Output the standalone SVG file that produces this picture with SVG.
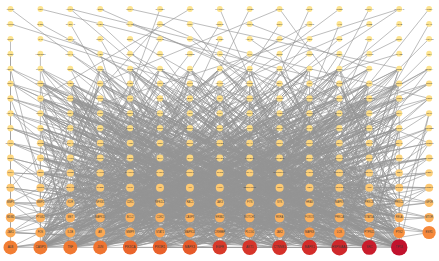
<svg xmlns="http://www.w3.org/2000/svg" width="439" height="261" viewBox="0 0 439 261">
<style>
.e{fill:none;stroke:#949494;stroke-width:.62;stroke-linejoin:round;stroke-linecap:round;vector-effect:non-scaling-stroke}
text{font-family:"Liberation Sans",Arial,sans-serif;text-anchor:middle;dominant-baseline:central;fill:#3a3a3a}
.a circle{fill:#FDE48F}.a text{font-size:2.3px}
.b circle{fill:#FDDE87}.b text{font-size:2.4px}
.c circle{fill:#FDD780}.c text{font-size:2.4px}
.d circle{fill:#FDD07A}.d text{font-size:2.5px}
.f circle{fill:#FDC973}.f text{font-size:2.5px}
.g circle{fill:#FDC06B}.g text{font-size:2.6px}
.h circle{fill:#FCB25E}.h text{font-size:2.6px}
.i text{font-size:2.7px}
.j text{font-size:3px}
</style>
<rect width="439" height="261" fill="#fff"/>
<g id="connectors">
<g transform="matrix(29.9 0 0 14.9 10.5 9)">
<path id="eT" class="e" d="M0 0 6 9M1 0 11 5M2 0 9 12M3 0 12 8M4 0 13 4M5 0 3 11M6 0 1 6M7 0 10 14M8 0 4 16M9 0 13 11M10 0 7 13M11 0 5 9M12 0 8 15M13 0 2 7M14 0 10 10M0 1 8 6M1 1 12 13M2 1 6 15M3 1 11 16M4 1 14 9M5 1 0 12M6 1 9 9M7 1 3 14M8 1 12 4M9 1 5 13M10 1 2 10M11 1 8 16M12 1 4 8M13 1 7 11M14 1 10 15M0 2 0 16M1 2 9 7M2 2 13 15M3 2 7 16M4 2 11 10M5 2 2 13M6 2 12 11M7 2 4 15M8 2 13 9M9 2 1 14M10 2 6 12M11 2 3 16M12 2 9 16M13 2 5 10M14 2 8 14M0 3 0 15M1 3 1 15M2 3 12 16M3 3 5 15M4 3 13 13M5 3 8 11M6 3 1 16M7 3 13 16M8 3 2 11M9 3 11 14M10 3 4 12M11 3 7 15M12 3 6 16M13 3 3 9M14 3 9 13M2 0 14 6M9 0 3 5M13 0 7 8M5 1 12 7"/>
<path id="eB" class="e" d="M0 4 9 15 4 4 12 16 0 5 7 14 14 4 3 16 5 4 11 13 0 6 10 16 6 4 2 15 7 4 13 14 0 7 8 16 8 4 1 13 14 5 5 16 9 4 12 15 0 8 6 13 10 4 4 16 11 4 9 14 14 6 2 16 12 4 7 15 0 9 11 16 13 4 3 14 14 7 13 16 1 5 10 15 0 10 5 16 2 5 8 12 14 8 12 14 3 5 1 16 4 5 6 15 0 11 13 12 5 5 9 16 14 9 2 14 6 5 11 15 0 12 7 16 7 5 4 13 14 10 10 16 8 5 3 15 0 13 12 13 9 5 8 16 10 5 5 14 14 11 1 15 11 5 13 15 0 14 6 16 12 5 2 12 14 12 11 16 13 5 7 13 0 15 9 16 1 6 12 12 14 13 4 15 2 6 10 13 0 16 13 16 3 6 6 14 14 14 8 15 4 6 1 12 0 4 11 14 5 6 9 13 14 15 3 13 6 6 12 16 0 5 10 11 7 6 5 15 8 6 13 13 0 6 2 16 9 6 7 12 14 4 11 12 10 6 4 14 0 7 12 15 11 6 1 16 14 5 8 13 12 6 10 16 0 8 6 11 13 6 3 12 14 6 9 15 1 7 11 13 0 9 5 12 2 7 13 14 14 7 7 16 3 7 2 13 0 10 8 14 4 7 12 11 14 8 4 16 5 7 10 12 0 11 1 14 6 7 9 11 14 9 13 12 7 7 3 15 0 12 11 15 8 7 6 12 14 10 5 13 9 7 12 14 0 13 2 11 10 7 8 16 14 11 4 12 11 7 7 13 0 14 10 14 12 7 1 11 14 12 9 12 13 7 13 16 0 15 3 11 14 13 6 15 0 16 12 13 14 14 5 11 0 15 11 16 14 15 7 11 0 14 9 16 14 12 2 16 0 13 8 15 14 10 1 15 0 16"/>
<path id="eK" class="e" d="M11 16 3 13 8 15 12 11 5 16 9 14 2 12 13 16 6 10 10 15 4 14 7 16 1 11 12 13 9 16 3 9 13 15 6 16 11 12 2 14 8 8 12 16 5 13 10 16 7 15 4 11 13 14 1 16 9 10 6 12 11 16
M12 13 1 12 9 16 4 10 13 15 7 13 2 16 10 11 6 12 11 14 3 16 8 9 12 15 5 12 13 16 9 11 1 16 4 15 11 10 7 16 10 13 2 11 12 16 6 14 8 12 13 13 3 15 9 16 5 7 11 16
M6 12 12 14 2 16 8 10 11 14 5 16 13 13 9 16 1 10 10 15 4 12 7 16 12 12 3 14 11 16 6 8 13 15 8 15 2 12 10 13 5 14 9 16 12 16 1 11 7 10 11 13 4 16 13 12 8 12 3 16
M13 14 9 16 6 16 1 10 12 12 4 16 11 16 3 12 8 13 10 14 5 15 13 13 2 16 7 10 12 15 9 10 11 11 6 11 1 16 10 15 4 13 13 16 8 15 3 13 12 11 7 16 5 16 11 15 2 13 9 12"/>
<path id="eA" class="e" d="M9 16 4 8 12 15 7 11 3 16 11 6 13 14 2 9 6 16 10 12 1 15 8 5 11 16 5 10 8 13 13 7 2 16 9 11 12 12 3 6 7 16 12 9 4 15 6 4 13 16 1 10 10 14 7 7 5 16 13 12
M10 16 2 7 13 15 6 10 4 16 12 8 8 14 1 11 12 16 5 5 2 13 9 9 11 15 3 12 6 16 11 4 1 16 7 8 9 15 13 10 13 16 4 6 5 14 10 11 8 16 2 5 3 15 12 10 11 16 8 7
M7 16 13 9 1 14 5 7 12 16 9 6 4 16 2 10 10 15 11 11 13 13 6 5 6 16 3 8 9 16 12 4 2 15 8 10 11 14 1 6 5 16 10 9 12 15 4 11 8 16 7 5 13 16 11 8 3 14 6 12
M11 16 3 7 6 15 9 12 13 16 2 11 1 16 12 6 9 14 5 9 4 15 13 5 12 16 7 10 8 15 1 8 2 16 10 7 10 13 4 10 7 16 12 11 5 15 8 4 13 14 3 9 9 16 11 5 1 15 6 7
M12 16 8 9 3 16 13 11 10 14 6 6 5 16 1 9 13 15 9 8 7 14 4 5 11 16 2 8 2 14 10 10 8 16 12 7 13 16 5 12 6 15 11 9 1 16 3 4 9 15 7 9 12 14 13 6 4 16 9 10
M13 16 6 8 8 15 2 6 5 16 11 12 12 13 7 4 1 16 13 8 10 16 4 9 3 15 8 11 11 15 1 7 7 16 12 5 4 14 6 9 13 16 10 6 9 15 3 10 2 16 9 5 12 16 5 8 6 14 11 7
M10 16 1 8 5 15 12 12 13 16 3 5 7 15 9 10 2 16 6 11 11 16 13 4 9 14 4 7 4 16 10 8 12 15 2 12 8 16 11 6 1 14 7 9 13 15 5 6 6 16 12 10 3 16 8 4 11 14 13 11
M9 16 5 6 12 16 1 9 2 15 10 4 7 16 3 11 13 14 8 8 4 16 12 6 10 15 6 12 6 16 13 10 1 15 9 7 11 16 4 8 8 14 2 4 13 16 11 9 3 16 7 6 12 15 10 11 5 16 1 5
M11 16 7 7 4 15 11 5 13 16 2 12 8 16 10 9 1 13 5 4 12 16 13 8 6 15 3 7 10 16 9 12 2 16 12 8 9 15 6 5 13 15 4 10 5 16 11 4 12 14 8 9 7 16 1 7 3 14 13 12
M13 16 9 5 6 16 4 11 11 15 12 7 2 14 8 6 10 16 1 4 8 16 13 9 4 15 7 8 12 16 3 10 9 13 11 8 1 16 6 9 7 15 10 5 13 14 2 8 5 16 12 11 11 16 5 6 3 15 9 11
M8 16 3 9 13 15 10 7 2 16 7 12 10 14 12 5 6 16 1 6 12 16 9 4 4 16 13 7 11 14 5 11 1 15 10 10 9 16 2 6 13 13 8 12 7 16 11 7 3 16 6 10 12 15 4 4 10 16 13 10
M12 16 2 9 5 15 9 6 13 16 7 9 3 15 12 5 9 16 4 12 11 16 1 10 7 14 13 5 1 16 8 7 13 15 5 9 8 15 11 11 4 16 10 4 10 13 3 8 6 16 12 6 2 15 9 9 12 16 6 11"/>
<path id="eC" class="e" d="M3 6 9 16 7 5 2 14 11 8 6 16 4 7 12 15 9 4 1 16 13 6 8 14 2 8 11 16 6 5 4 15 10 7 13 16 5 9 7 15 12 6 3 16 1 8 10 14 8 5 12 16 4 9 2 13 11 6 9 16 6 7 5 13 13 8 1 15 7 4 11 14 3 9 8 16 10 6 13 15
M2 5 6 16 12 8 4 14 9 7 10 16 1 6 3 15 11 9 7 16 5 5 12 13 8 8 2 16 13 7 6 14 4 4 10 15 12 9 1 14 9 6 11 16 3 7 7 13 10 5 5 16 6 8 13 14 2 9 8 15 11 4 4 16
M1 7 12 14 7 6 9 13 13 9 3 16 8 4 10 16 5 8 2 15 12 7 11 13 4 6 6 15 9 9 13 16 10 8 1 13 3 5 7 16 11 7 5 14 2 6 12 16 6 9 8 13 13 5 4 13 7 8 10 15 1 9 11 15
M8 6 3 13 12 5 9 16 5 7 2 12 10 9 6 13 4 8 13 13 11 5 7 14 3 4 1 12 9 8 12 12 2 7 10 13 6 6 8 12 13 4 5 12 1 5 11 12"/>
</g>
<g transform="matrix(-29.9 0 0 14.9 429.1 9)"><use href="#eA"/><use href="#eC"/></g>
</g>
<g id="nodes">
<g class="a" transform="translate(0 9)">
<g id="n-PTGS1"><circle cx="10.5" r="2.9"/><text x="10.5">PTGS1</text></g>
<g id="n-F2R"><circle cx="40.4" r="2.9"/><text x="40.4">F2R</text></g>
<g id="n-HMGCR"><circle cx="70.3" r="2.9"/><text x="70.3">HMGCR</text></g>
<g id="n-ABCC1"><circle cx="100.2" r="2.9"/><text x="100.2">ABCC1</text></g>
<g id="n-NR1H4"><circle cx="130.1" r="2.9"/><text x="130.1">NR1H4</text></g>
<g id="n-CYP1B1"><circle cx="160" r="2.9"/><text x="160">CYP1B1</text></g>
<g id="n-ALOX5"><circle cx="189.9" r="2.9"/><text x="189.9">ALOX5</text></g>
<g id="n-MAP2K1"><circle cx="219.8" r="2.9"/><text x="219.8">MAP2K1</text></g>
<g id="n-ADRB2"><circle cx="249.7" r="2.9"/><text x="249.7">ADRB2</text></g>
<g id="n-CHRM1"><circle cx="279.6" r="2.9"/><text x="279.6">CHRM1</text></g>
<g id="n-GSK3A"><circle cx="309.5" r="2.9"/><text x="309.5">GSK3A</text></g>
<g id="n-NOS2"><circle cx="339.4" r="2.9"/><text x="339.4">NOS2</text></g>
<g id="n-SLC6A4"><circle cx="369.3" r="2.9"/><text x="369.3">SLC6A4</text></g>
<g id="n-CYP19A1"><circle cx="399.2" r="2.9"/><text x="399.2">CYP19A1</text></g>
<g id="n-HTR2A"><circle cx="429.1" r="2.9"/><text x="429.1">HTR2A</text></g>
</g>
<g class="a" transform="translate(0 23.9)">
<g id="n-PTPN1"><circle cx="10.5" r="2.9"/><text x="10.5">PTPN1</text></g>
<g id="n-SHBG"><circle cx="40.4" r="2.9"/><text x="40.4">SHBG</text></g>
<g id="n-GABRA1"><circle cx="70.3" r="2.9"/><text x="70.3">GABRA1</text></g>
<g id="n-CHEK1"><circle cx="100.2" r="2.9"/><text x="100.2">CHEK1</text></g>
<g id="n-PPARD"><circle cx="130.1" r="2.9"/><text x="130.1">PPARD</text></g>
<g id="n-AKR1C3"><circle cx="160" r="2.9"/><text x="160">AKR1C3</text></g>
<g id="n-AURKA"><circle cx="189.9" r="2.9"/><text x="189.9">AURKA</text></g>
<g id="n-PDE4D"><circle cx="219.8" r="2.9"/><text x="219.8">PDE4D</text></g>
<g id="n-KCNH2"><circle cx="249.7" r="2.9"/><text x="249.7">KCNH2</text></g>
<g id="n-CDK6"><circle cx="279.6" r="2.9"/><text x="279.6">CDK6</text></g>
<g id="n-MAP3K8"><circle cx="309.5" r="2.9"/><text x="309.5">MAP3K8</text></g>
<g id="n-AHR"><circle cx="339.4" r="2.9"/><text x="339.4">AHR</text></g>
<g id="n-CTSB"><circle cx="369.3" r="2.9"/><text x="369.3">CTSB</text></g>
<g id="n-ACHE"><circle cx="399.2" r="2.9"/><text x="399.2">ACHE</text></g>
<g id="n-PLAU"><circle cx="429.1" r="2.9"/><text x="429.1">PLAU</text></g>
</g>
<g class="a" transform="translate(0 38.8)">
<g id="n-NQO1"><circle cx="10.5" r="2.9"/><text x="10.5">NQO1</text></g>
<g id="n-CA2"><circle cx="40.4" r="2.9"/><text x="40.4">CA2</text></g>
<g id="n-ADORA2A"><circle cx="70.3" r="2.9"/><text x="70.3">ADORA2A</text></g>
<g id="n-CCNA2"><circle cx="100.2" r="2.9"/><text x="100.2">CCNA2</text></g>
<g id="n-DPP4"><circle cx="130.1" r="2.9"/><text x="130.1">DPP4</text></g>
<g id="n-MMP13"><circle cx="160" r="2.9"/><text x="160">MMP13</text></g>
<g id="n-PIM1"><circle cx="189.9" r="2.9"/><text x="189.9">PIM1</text></g>
<g id="n-BACE1"><circle cx="219.8" r="2.9"/><text x="219.8">BACE1</text></g>
<g id="n-HDAC6"><circle cx="249.7" r="2.9"/><text x="249.7">HDAC6</text></g>
<g id="n-PTPRC"><circle cx="279.6" r="2.9"/><text x="279.6">PTPRC</text></g>
<g id="n-ABL1"><circle cx="309.5" r="2.9"/><text x="309.5">ABL1</text></g>
<g id="n-SELE"><circle cx="339.4" r="2.9"/><text x="339.4">SELE</text></g>
<g id="n-CYP3A4"><circle cx="369.3" r="2.9"/><text x="369.3">CYP3A4</text></g>
<g id="n-TOP2A"><circle cx="399.2" r="2.9"/><text x="399.2">TOP2A</text></g>
<g id="n-ALOX15"><circle cx="429.1" r="2.9"/><text x="429.1">ALOX15</text></g>
</g>
<g class="a" transform="translate(0 53.7)">
<g id="n-SOD1"><circle cx="10.5" r="2.9"/><text x="10.5">SOD1</text></g>
<g id="n-HSD11B1"><circle cx="40.4" r="2.9"/><text x="40.4">HSD11B1</text></g>
<g id="n-PRKACA"><circle cx="70.3" r="2.9"/><text x="70.3">PRKACA</text></g>
<g id="n-FABP4"><circle cx="100.2" r="2.9"/><text x="100.2">FABP4</text></g>
<g id="n-MMP12"><circle cx="130.1" r="2.9"/><text x="130.1">MMP12</text></g>
<g id="n-GSTP1"><circle cx="160" r="2.9"/><text x="160">GSTP1</text></g>
<g id="n-CDC25B"><circle cx="189.9" r="2.9"/><text x="189.9">CDC25B</text></g>
<g id="n-PLA2G4A"><circle cx="219.8" r="2.9"/><text x="219.8">PLA2G4A</text></g>
<g id="n-TYR"><circle cx="249.7" r="2.9"/><text x="249.7">TYR</text></g>
<g id="n-ESR2"><circle cx="279.6" r="2.9"/><text x="279.6">ESR2</text></g>
<g id="n-NR3C2"><circle cx="309.5" r="2.9"/><text x="309.5">NR3C2</text></g>
<g id="n-PDE5A"><circle cx="339.4" r="2.9"/><text x="339.4">PDE5A</text></g>
<g id="n-CHRM3"><circle cx="369.3" r="2.9"/><text x="369.3">CHRM3</text></g>
<g id="n-MAOB"><circle cx="399.2" r="2.9"/><text x="399.2">MAOB</text></g>
<g id="n-XDH"><circle cx="429.1" r="2.9"/><text x="429.1">XDH</text></g>
</g>
<g class="a" transform="translate(0 68.6)">
<g id="n-ADRA2A"><circle cx="10.5" r="2.9"/><text x="10.5">ADRA2A</text></g>
<g id="n-CYP2C9"><circle cx="40.4" r="2.9"/><text x="40.4">CYP2C9</text></g>
<g id="n-CES1"><circle cx="70.3" r="2.9"/><text x="70.3">CES1</text></g>
<g id="n-HPGDS"><circle cx="100.2" r="2.9"/><text x="100.2">HPGDS</text></g>
<g id="n-RXRB"><circle cx="130.1" r="2.9"/><text x="130.1">RXRB</text></g>
<g id="n-AKR1B1"><circle cx="160" r="2.9"/><text x="160">AKR1B1</text></g>
<g id="n-MPO"><circle cx="189.9" r="2.9"/><text x="189.9">MPO</text></g>
<g id="n-CA9"><circle cx="219.8" r="2.9"/><text x="219.8">CA9</text></g>
<g id="n-IGF2"><circle cx="249.7" r="2.9"/><text x="249.7">IGF2</text></g>
<g id="n-CTSK"><circle cx="279.6" r="2.9"/><text x="279.6">CTSK</text></g>
<g id="n-PYGM"><circle cx="309.5" r="2.9"/><text x="309.5">PYGM</text></g>
<g id="n-DRD2"><circle cx="339.4" r="2.9"/><text x="339.4">DRD2</text></g>
<g id="n-AMY1A"><circle cx="369.3" r="2.9"/><text x="369.3">AMY1A</text></g>
<g id="n-GRB7"><circle cx="399.2" r="2.9"/><text x="399.2">GRB7</text></g>
<g id="n-SCN5A"><circle cx="429.1" r="2.9"/><text x="429.1">SCN5A</text></g>
</g>
<g class="b" transform="translate(0 83.5)">
<g id="n-NOX4"><circle cx="10.5" r="3.1"/><text x="10.5">NOX4</text></g>
<g id="n-PTGER4"><circle cx="40.4" r="3.1"/><text x="40.4">PTGER4</text></g>
<g id="n-CHEK2"><circle cx="70.3" r="3.1"/><text x="70.3">CHEK2</text></g>
<g id="n-HSPA8"><circle cx="100.2" r="3.1"/><text x="100.2">HSPA8</text></g>
<g id="n-CASP7"><circle cx="130.1" r="3.1"/><text x="130.1">CASP7</text></g>
<g id="n-CYP1A2"><circle cx="160" r="3.1"/><text x="160">CYP1A2</text></g>
<g id="n-PLK1"><circle cx="189.9" r="3.1"/><text x="189.9">PLK1</text></g>
<g id="n-ADAM17"><circle cx="219.8" r="3.1"/><text x="219.8">ADAM17</text></g>
<g id="n-PRSS1"><circle cx="249.7" r="3.1"/><text x="249.7">PRSS1</text></g>
<g id="n-CDK4"><circle cx="279.6" r="3.1"/><text x="279.6">CDK4</text></g>
<g id="n-F10"><circle cx="309.5" r="3.1"/><text x="309.5">F10</text></g>
<g id="n-THRB"><circle cx="339.4" r="3.1"/><text x="339.4">THRB</text></g>
<g id="n-RARA"><circle cx="369.3" r="3.1"/><text x="369.3">RARA</text></g>
<g id="n-NR1I2"><circle cx="399.2" r="3.1"/><text x="399.2">NR1I2</text></g>
<g id="n-CFTR"><circle cx="429.1" r="3.1"/><text x="429.1">CFTR</text></g>
</g>
<g class="b" transform="translate(0 98.4)">
<g id="n-SELP"><circle cx="10.5" r="3.1"/><text x="10.5">SELP</text></g>
<g id="n-IL4"><circle cx="40.4" r="3.1"/><text x="40.4">IL4</text></g>
<g id="n-TYK2"><circle cx="70.3" r="3.1"/><text x="70.3">TYK2</text></g>
<g id="n-PTPN6"><circle cx="100.2" r="3.1"/><text x="100.2">PTPN6</text></g>
<g id="n-LYN"><circle cx="130.1" r="3.1"/><text x="130.1">LYN</text></g>
<g id="n-ZAP70"><circle cx="160" r="3.1"/><text x="160">ZAP70</text></g>
<g id="n-BTK"><circle cx="189.9" r="3.1"/><text x="189.9">BTK</text></g>
<g id="n-ITK"><circle cx="219.8" r="3.1"/><text x="219.8">ITK</text></g>
<g id="n-PRKCQ"><circle cx="249.7" r="3.1"/><text x="249.7">PRKCQ</text></g>
<g id="n-PIK3CD"><circle cx="279.6" r="3.1"/><text x="279.6">PIK3CD</text></g>
<g id="n-PIK3CG"><circle cx="309.5" r="3.1"/><text x="309.5">PIK3CG</text></g>
<g id="n-PDPK1"><circle cx="339.4" r="3.1"/><text x="339.4">PDPK1</text></g>
<g id="n-EIF4EBP1"><circle cx="369.3" r="3.1"/><text x="369.3">EIF4EBP1</text></g>
<g id="n-AURKB"><circle cx="399.2" r="3.1"/><text x="399.2">AURKB</text></g>
<g id="n-TOP1"><circle cx="429.1" r="3.1"/><text x="429.1">TOP1</text></g>
</g>
<g class="b" transform="translate(0 113.3)">
<g id="n-HDAC2"><circle cx="10.5" r="3.1"/><text x="10.5">HDAC2</text></g>
<g id="n-NCOA1"><circle cx="40.4" r="3.1"/><text x="40.4">NCOA1</text></g>
<g id="n-NCOA3"><circle cx="70.3" r="3.1"/><text x="70.3">NCOA3</text></g>
<g id="n-PGR"><circle cx="100.2" r="3.1"/><text x="100.2">PGR</text></g>
<g id="n-NR3C1"><circle cx="130.1" r="3.1"/><text x="130.1">NR3C1</text></g>
<g id="n-PPARA"><circle cx="160" r="3.1"/><text x="160">PPARA</text></g>
<g id="n-VDR"><circle cx="189.9" r="3.1"/><text x="189.9">VDR</text></g>
<g id="n-THRA"><circle cx="219.8" r="3.1"/><text x="219.8">THRA</text></g>
<g id="n-NR1H3"><circle cx="249.7" r="3.1"/><text x="249.7">NR1H3</text></g>
<g id="n-CYP2D6"><circle cx="279.6" r="3.1"/><text x="279.6">CYP2D6</text></g>
<g id="n-ABCG2"><circle cx="309.5" r="3.1"/><text x="309.5">ABCG2</text></g>
<g id="n-SLC2A1"><circle cx="339.4" r="3.1"/><text x="339.4">SLC2A1</text></g>
<g id="n-HK2"><circle cx="369.3" r="3.1"/><text x="369.3">HK2</text></g>
<g id="n-LDHA"><circle cx="399.2" r="3.1"/><text x="399.2">LDHA</text></g>
<g id="n-PKM"><circle cx="429.1" r="3.1"/><text x="429.1">PKM</text></g>
</g>
<g class="b" transform="translate(0 128.2)">
<g id="n-G6PD"><circle cx="10.5" r="3.1"/><text x="10.5">G6PD</text></g>
<g id="n-APOE"><circle cx="40.4" r="3.1"/><text x="40.4">APOE</text></g>
<g id="n-MAPT"><circle cx="70.3" r="3.1"/><text x="70.3">MAPT</text></g>
<g id="n-NGF"><circle cx="100.2" r="3.1"/><text x="100.2">NGF</text></g>
<g id="n-NTRK2"><circle cx="130.1" r="3.1"/><text x="130.1">NTRK2</text></g>
<g id="n-CNR1"><circle cx="160" r="3.1"/><text x="160">CNR1</text></g>
<g id="n-OPRM1"><circle cx="189.9" r="3.1"/><text x="189.9">OPRM1</text></g>
<g id="n-DRD1"><circle cx="219.8" r="3.1"/><text x="219.8">DRD1</text></g>
<g id="n-HTR1A"><circle cx="249.7" r="3.1"/><text x="249.7">HTR1A</text></g>
<g id="n-BCHE"><circle cx="279.6" r="3.1"/><text x="279.6">BCHE</text></g>
<g id="n-MAOA"><circle cx="309.5" r="3.1"/><text x="309.5">MAOA</text></g>
<g id="n-COMT"><circle cx="339.4" r="3.1"/><text x="339.4">COMT</text></g>
<g id="n-SLC6A3"><circle cx="369.3" r="3.1"/><text x="369.3">SLC6A3</text></g>
<g id="n-GRIN1"><circle cx="399.2" r="3.1"/><text x="399.2">GRIN1</text></g>
<g id="n-GRIN2B"><circle cx="429.1" r="3.1"/><text x="429.1">GRIN2B</text></g>
</g>
<g class="c" transform="translate(0 143.1)">
<g id="n-CHRNA7"><circle cx="10.5" r="3.4"/><text x="10.5">CHRNA7</text></g>
<g id="n-ADRB1"><circle cx="40.4" r="3.4"/><text x="40.4">ADRB1</text></g>
<g id="n-ADRA1A"><circle cx="70.3" r="3.4"/><text x="70.3">ADRA1A</text></g>
<g id="n-AGTR1"><circle cx="100.2" r="3.4"/><text x="100.2">AGTR1</text></g>
<g id="n-ACE"><circle cx="130.1" r="3.4"/><text x="130.1">ACE</text></g>
<g id="n-REN"><circle cx="160" r="3.4"/><text x="160">REN</text></g>
<g id="n-EDN1"><circle cx="189.9" r="3.4"/><text x="189.9">EDN1</text></g>
<g id="n-PTGES"><circle cx="219.8" r="3.4"/><text x="219.8">PTGES</text></g>
<g id="n-LTA4H"><circle cx="249.7" r="3.4"/><text x="249.7">LTA4H</text></g>
<g id="n-MMP7"><circle cx="279.6" r="3.4"/><text x="279.6">MMP7</text></g>
<g id="n-TIMP1"><circle cx="309.5" r="3.4"/><text x="309.5">TIMP1</text></g>
<g id="n-CD44"><circle cx="339.4" r="3.4"/><text x="339.4">CD44</text></g>
<g id="n-CDH2"><circle cx="369.3" r="3.4"/><text x="369.3">CDH2</text></g>
<g id="n-SNAI1"><circle cx="399.2" r="3.4"/><text x="399.2">SNAI1</text></g>
<g id="n-TWIST1"><circle cx="429.1" r="3.4"/><text x="429.1">TWIST1</text></g>
</g>
<g class="c" transform="translate(0 158)">
<g id="n-ZEB1"><circle cx="10.5" r="3.4"/><text x="10.5">ZEB1</text></g>
<g id="n-APC"><circle cx="40.4" r="3.4"/><text x="40.4">APC</text></g>
<g id="n-AXIN1"><circle cx="70.3" r="3.4"/><text x="70.3">AXIN1</text></g>
<g id="n-WNT3A"><circle cx="100.2" r="3.4"/><text x="100.2">WNT3A</text></g>
<g id="n-HES1"><circle cx="130.1" r="3.4"/><text x="130.1">HES1</text></g>
<g id="n-SHH"><circle cx="160" r="3.4"/><text x="160">SHH</text></g>
<g id="n-GLI1"><circle cx="189.9" r="3.4"/><text x="189.9">GLI1</text></g>
<g id="n-SMAD2"><circle cx="219.8" r="3.4"/><text x="219.8">SMAD2</text></g>
<g id="n-TGFBR1"><circle cx="249.7" r="3.4"/><text x="249.7">TGFBR1</text></g>
<g id="n-TGFBR2"><circle cx="279.6" r="3.4"/><text x="279.6">TGFBR2</text></g>
<g id="n-BMP2"><circle cx="309.5" r="3.4"/><text x="309.5">BMP2</text></g>
<g id="n-RUNX2"><circle cx="339.4" r="3.4"/><text x="339.4">RUNX2</text></g>
<g id="n-SOX2"><circle cx="369.3" r="3.4"/><text x="369.3">SOX2</text></g>
<g id="n-POU5F1"><circle cx="399.2" r="3.4"/><text x="399.2">POU5F1</text></g>
<g id="n-NANOG"><circle cx="429.1" r="3.4"/><text x="429.1">NANOG</text></g>
</g>
<g class="d" transform="translate(0 172.9)">
<g id="n-KLF4"><circle cx="10.5" r="3.7"/><text x="10.5">KLF4</text></g>
<g id="n-TERT"><circle cx="40.4" r="3.7"/><text x="40.4">TERT</text></g>
<g id="n-HSPB1"><circle cx="70.3" r="3.7"/><text x="70.3">HSPB1</text></g>
<g id="n-CALM1"><circle cx="100.2" r="3.7"/><text x="100.2">CALM1</text></g>
<g id="n-CAMK2A"><circle cx="130.1" r="3.7"/><text x="130.1">CAMK2A</text></g>
<g id="n-CASP1"><circle cx="160" r="3.7"/><text x="160">CASP1</text></g>
<g id="n-NLRP3"><circle cx="189.9" r="3.7"/><text x="189.9">NLRP3</text></g>
<g id="n-TLR2"><circle cx="219.8" r="3.7"/><text x="219.8">TLR2</text></g>
<g id="n-IRAK4"><circle cx="249.7" r="3.7"/><text x="249.7">IRAK4</text></g>
<g id="n-TNFRSF1A"><circle cx="279.6" r="3.7"/><text x="279.6">TNFRSF1A</text></g>
<g id="n-FASLG"><circle cx="309.5" r="3.7"/><text x="309.5">FASLG</text></g>
<g id="n-TNFSF10"><circle cx="339.4" r="3.7"/><text x="339.4">TNFSF10</text></g>
<g id="n-CD40LG"><circle cx="369.3" r="3.7"/><text x="369.3">CD40LG</text></g>
<g id="n-CD4"><circle cx="399.2" r="3.7"/><text x="399.2">CD4</text></g>
<g id="n-IL2RA"><circle cx="429.1" r="3.7"/><text x="429.1">IL2RA</text></g>
</g>
<g class="f" transform="translate(0 187.8)">
<g id="n-CXCR4"><circle cx="10.5" r="4"/><text x="10.5">CXCR4</text></g>
<g id="n-CCR5"><circle cx="40.4" r="4"/><text x="40.4">CCR5</text></g>
<g id="n-PECAM1"><circle cx="70.3" r="4"/><text x="70.3">PECAM1</text></g>
<g id="n-THBD"><circle cx="100.2" r="4"/><text x="100.2">THBD</text></g>
<g id="n-PLG"><circle cx="130.1" r="4"/><text x="130.1">PLG</text></g>
<g id="n-F2"><circle cx="160" r="4"/><text x="160">F2</text></g>
<g id="n-F3"><circle cx="189.9" r="4"/><text x="189.9">F3</text></g>
<g id="n-VWF"><circle cx="219.8" r="4"/><text x="219.8">VWF</text></g>
<g id="n-SERPINC1"><circle cx="249.7" r="4"/><text x="249.7">SERPINC1</text></g>
<g id="n-CRP"><circle cx="279.6" r="4"/><text x="279.6">CRP</text></g>
<g id="n-LEP"><circle cx="309.5" r="4"/><text x="309.5">LEP</text></g>
<g id="n-ADIPOQ"><circle cx="339.4" r="4"/><text x="339.4">ADIPOQ</text></g>
<g id="n-INS"><circle cx="369.3" r="4"/><text x="369.3">INS</text></g>
<g id="n-GCGR"><circle cx="399.2" r="4"/><text x="399.2">GCGR</text></g>
<g id="n-PCSK9"><circle cx="429.1" r="4"/><text x="429.1">PCSK9</text></g>
</g>
<g class="g" transform="translate(0 202.7)">
<g id="n-MMP3"><circle cx="10.5" r="4.3"/><text x="10.5">MMP3</text></g>
<g id="n-MMP2"><circle cx="40.4" r="4.3"/><text x="40.4">MMP2</text></g>
<g id="n-KDR"><circle cx="70.3" r="4.3"/><text x="70.3">KDR</text></g>
<g id="n-NFKB1"><circle cx="100.2" r="4.3"/><text x="100.2">NFKB1</text></g>
<g id="n-CDK1"><circle cx="130.1" r="4.3"/><text x="130.1">CDK1</text></g>
<g id="n-NFE2L2"><circle cx="160" r="4.3"/><text x="160">NFE2L2</text></g>
<g id="n-RAC1"><circle cx="189.9" r="4.3"/><text x="189.9">RAC1</text></g>
<g id="n-JAK3"><circle cx="219.8" r="4.3"/><text x="219.8">JAK3</text></g>
<g id="n-FYN"><circle cx="249.7" r="4.3"/><text x="249.7">FYN</text></g>
<g id="n-SYK"><circle cx="279.6" r="4.3"/><text x="279.6">SYK</text></g>
<g id="n-HRAS"><circle cx="309.5" r="4.3"/><text x="309.5">HRAS</text></g>
<g id="n-MAPK9"><circle cx="339.4" r="4.3"/><text x="339.4">MAPK9</text></g>
<g id="n-PRKCB"><circle cx="369.3" r="4.3"/><text x="369.3">PRKCB</text></g>
<g id="n-PRKCD"><circle cx="399.2" r="4.3"/><text x="399.2">PRKCD</text></g>
<g id="n-IGF1R"><circle cx="429.1" r="4.3"/><text x="429.1">IGF1R</text></g>
</g>
<g class="h" transform="translate(0 217.6)">
<g id="n-MDM2"><circle cx="10.5" r="4.7"/><text x="10.5">MDM2</text></g>
<g id="n-PTGS2"><circle cx="40.4" r="4.7"/><text x="40.4">PTGS2</text></g>
<g id="n-MET"><circle cx="70.3" r="4.7"/><text x="70.3">MET</text></g>
<g id="n-MAPK10"><circle cx="100.2" r="4.7"/><text x="100.2">MAPK10</text></g>
<g id="n-BCL2"><circle cx="130.1" r="4.7"/><text x="130.1">BCL2</text></g>
<g id="n-CDK2"><circle cx="160" r="4.7"/><text x="160">CDK2</text></g>
<g id="n-CASP8"><circle cx="189.9" r="4.7"/><text x="189.9">CASP8</text></g>
<g id="n-ERBB2"><circle cx="219.8" r="4.7"/><text x="219.8">ERBB2</text></g>
<g id="n-NOTCH1"><circle cx="249.7" r="4.7"/><text x="249.7">NOTCH1</text></g>
<g id="n-RXRA"><circle cx="279.6" r="4.7"/><text x="279.6">RXRA</text></g>
<g id="n-FOXO3"><circle cx="309.5" r="4.7"/><text x="309.5">FOXO3</text></g>
<g id="n-PRKCA"><circle cx="339.4" r="4.7"/><text x="339.4">PRKCA</text></g>
<g id="n-STAT5A"><circle cx="369.3" r="4.7"/><text x="369.3">STAT5A</text></g>
<g id="n-RELA"><circle cx="399.2" r="4.7"/><text x="399.2">RELA</text></g>
<g id="n-MTOR"><circle cx="429.1" r="4.7"/><text x="429.1">MTOR</text></g>
</g>
<g class="i" transform="translate(0 232.5)">
<g id="n-JAK1"><circle cx="10.5" r="5" fill="#FBA853"/><text x="10.5">JAK1</text></g>
<g id="n-FOS"><circle cx="40.4" r="5" fill="#FBA853"/><text x="40.4">FOS</text></g>
<g id="n-IL1B"><circle cx="70.3" r="5" fill="#FBA853"/><text x="70.3">IL1B</text></g>
<g id="n-AR"><circle cx="100.2" r="5" fill="#FBA853"/><text x="100.2">AR</text></g>
<g id="n-MMP9"><circle cx="130.1" r="5" fill="#FBA853"/><text x="130.1">MMP9</text></g>
<g id="n-STAT1"><circle cx="160" r="5" fill="#FAA04E"/><text x="160">STAT1</text></g>
<g id="n-MAPK14"><circle cx="189.9" r="5" fill="#FAA04E"/><text x="189.9">MAPK14</text></g>
<g id="n-CREBBP"><circle cx="219.8" r="5" fill="#FAA04E"/><text x="219.8">CREBBP</text></g>
<g id="n-PLCG1"><circle cx="249.7" r="5" fill="#FAA04E"/><text x="249.7">PLCG1</text></g>
<g id="n-JAK2"><circle cx="279.6" r="5" fill="#FAA04E"/><text x="279.6">JAK2</text></g>
<g id="n-MAPK8"><circle cx="309.5" r="5.3" fill="#F99747"/><text x="309.5">MAPK8</text></g>
<g id="n-LCK"><circle cx="339.4" r="5.3" fill="#F99747"/><text x="339.4">LCK</text></g>
<g id="n-PTPN11"><circle cx="369.3" r="5.3" fill="#F99747"/><text x="369.3">PTPN11</text></g>
<g id="n-PTK2"><circle cx="399.2" r="5.7" fill="#F8903F"/><text x="399.2">PTK2</text></g>
<g id="n-ESR1"><circle cx="429.1" r="6.6" fill="#F6883B"/><text x="429.1">ESR1</text></g>
</g>
<g class="j" transform="translate(0 247.4)">
<g id="n-ALB"><circle cx="10.5" r="7" fill="#F27E34"/><text x="10.5">ALB</text></g>
<g id="n-CASP3"><circle cx="40.4" r="7" fill="#F07A33"/><text x="40.4">CASP3</text></g>
<g id="n-TNF"><circle cx="70.3" r="7" fill="#F07832"/><text x="70.3">TNF</text></g>
<g id="n-JUN"><circle cx="100.2" r="7" fill="#EF7431"/><text x="100.2">JUN</text></g>
<g id="n-PIK3CA"><circle cx="130.1" r="7.2" fill="#EA652C"/><text x="130.1">PIK3CA</text></g>
<g id="n-PIK3R1"><circle cx="160" r="7.2" fill="#E9612B"/><text x="160">PIK3R1</text></g>
<g id="n-MAPK3"><circle cx="189.9" r="7.3" fill="#E65A2A"/><text x="189.9">MAPK3</text></g>
<g id="n-EGFR"><circle cx="219.8" r="7.2" fill="#D83A2A"/><text x="219.8">EGFR</text></g>
<g id="n-AKT1"><circle cx="249.7" r="7.5" fill="#D6352A"/><text x="249.7">AKT1</text></g>
<g id="n-CTNNB1"><circle cx="279.6" r="7.5" fill="#D5312A"/><text x="279.6">CTNNB1</text></g>
<g id="n-MAPK1"><circle cx="309.5" r="7.7" fill="#D32D2A"/><text x="309.5">MAPK1</text></g>
<g id="n-HSP90AA1"><circle cx="339.4" r="8" fill="#CF282B"/><text x="339.4">HSP90AA1</text></g>
<g id="n-SRC"><circle cx="369.3" r="7.4" fill="#C91D2C"/><text x="369.3">SRC</text></g>
<g id="n-TP53"><circle cx="399.2" r="8.2" fill="#C1122D"/><text x="399.2">TP53</text></g>
</g>
</g>
</svg>
